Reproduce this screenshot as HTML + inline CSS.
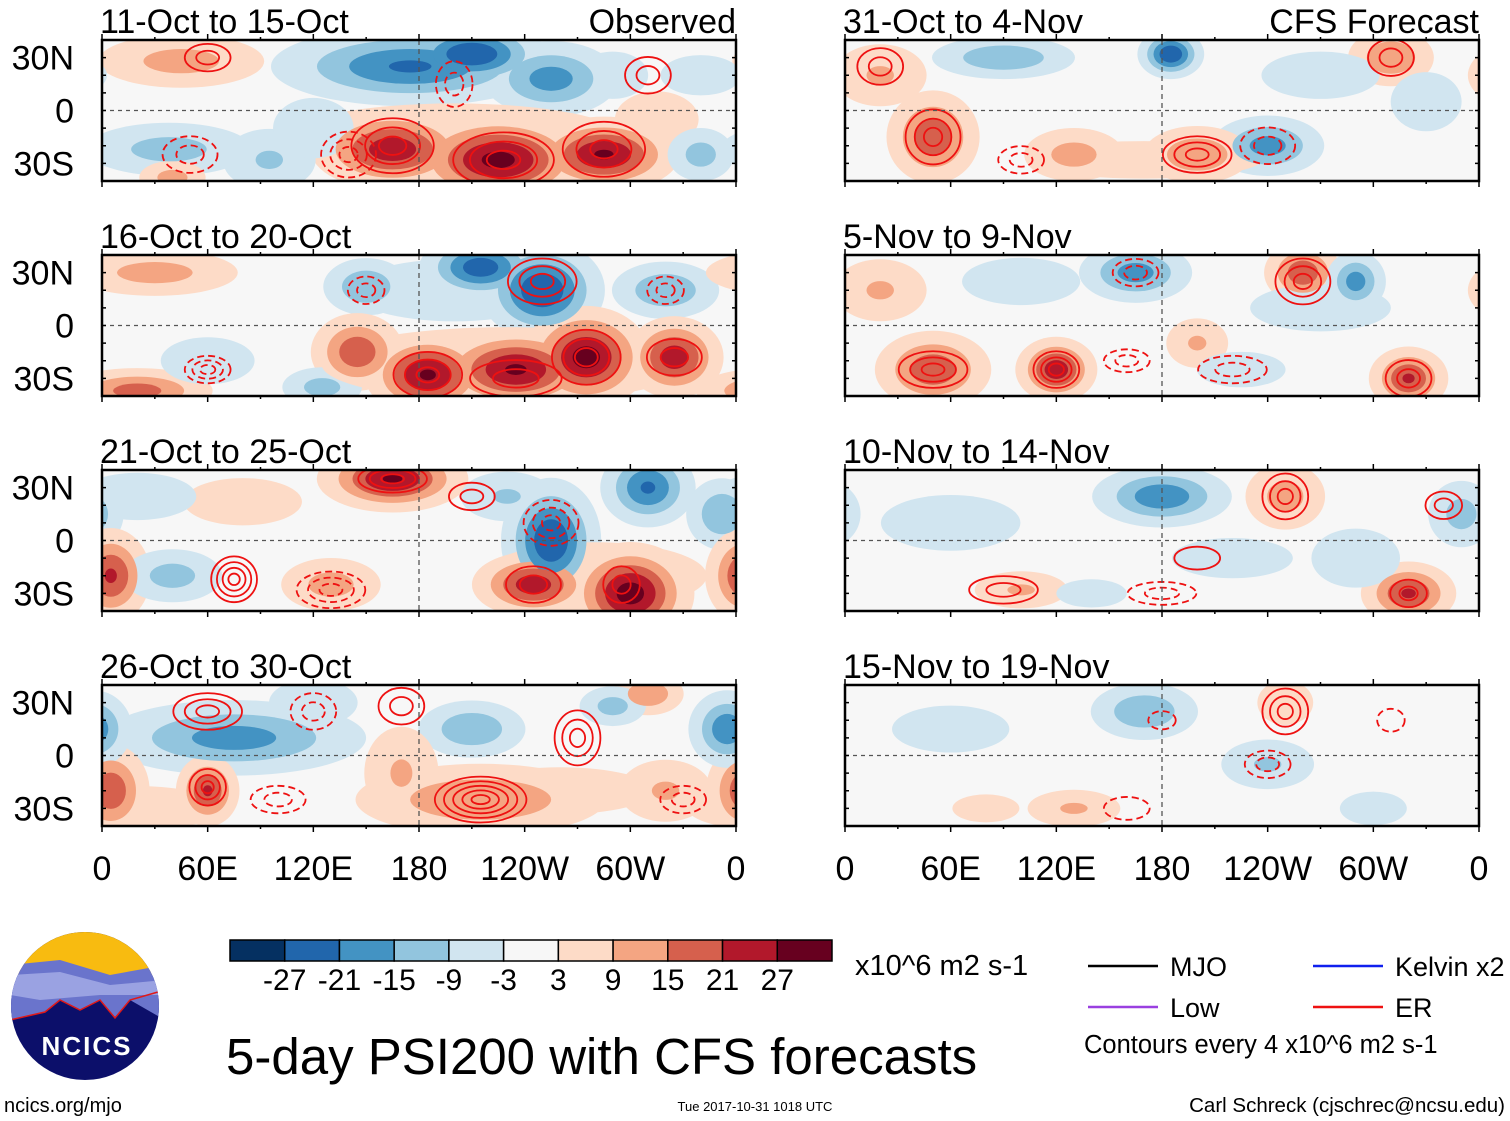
<!DOCTYPE html>
<html><head><meta charset="utf-8">
<style>
body{margin:0;background:#fff;width:1510px;height:1121px;overflow:hidden;font-family:"Liberation Sans",sans-serif;}
svg{position:absolute;left:0;top:0}
</style></head>
<body>
<svg id="fig" width="1510" height="1121" viewBox="0 0 1510 1121">
</svg>
<script>
// ---- data ----
const panelTitles = ["11-Oct to 15-Oct","16-Oct to 20-Oct","21-Oct to 25-Oct","26-Oct to 30-Oct","31-Oct to 4-Nov","5-Nov to 9-Nov","10-Nov to 14-Nov","15-Nov to 19-Nov"];
const colorLevels = [-27,-21,-15,-9,-3,3,9,15,21,27];
const colorFills = ["#053061","#2166ac","#4393c3","#92c5de","#d1e5f0","#f7f7f7","#fddbc7","#f4a582","#d6604d","#b2182b","#67001f"];
const lonTicks = ["0","60E","120E","180","120W","60W","0"];
const latTicks = ["30N","0","30S"];
// anomaly blobs per panel: [lon, lat, amplitude, radiusLonDeg, radiusLatDeg]
const blobs0 = [[175,25,-22,35,10],[210,32,-27,18,8],[255,18,-18,18,10],[290,20,-9,12,8],[165,-22,25,20,10],[225,-28,29,22,11],[285,-25,28,18,9],[45,28,12,25,8],[38,-22,-12,25,8],[95,-28,-10,15,10],[40,-38,12,10,5],[315,-5,8,15,10],[340,-25,-12,10,8],[200,-15,8,60,12],[120,-10,-5,20,15],[340,20,-5,20,10]];
const blobs1 = [[215,33,-25,15,8],[250,20,-27,15,12],[150,22,-15,12,8],[320,20,-15,15,8],[145,-15,20,12,10],[185,-28,28,15,10],[235,-25,28,20,10],[275,-18,30,15,12],[325,-18,25,12,10],[20,-37,18,20,6],[30,30,12,25,7],[125,-35,-12,12,6],[60,-20,-6,20,10],[230,-22,10,60,12],[200,20,-7,40,12]];
const blobs2 = [[165,35,28,18,8],[255,0,-27,12,15],[310,30,-22,12,10],[352,15,-15,10,10],[245,-25,25,15,8],[300,-30,30,15,12],[5,-20,22,10,12],[40,-20,-12,15,8],[80,22,9,20,8],[20,25,-9,20,8],[130,-25,12,15,8],[230,25,-10,15,8],[280,-20,8,40,12]];
const blobs3 = [[75,10,-18,35,10],[210,15,-15,15,8],[60,-20,22,8,9],[5,-20,20,10,12],[215,-25,15,35,10],[170,-10,10,12,15],[320,-20,10,15,10],[355,15,-20,10,10],[310,35,15,10,6],[120,30,-9,15,8],[290,28,-12,10,6],[20,-30,8,30,8],[260,-20,6,40,10]];
const blobs4 = [[185,32,-27,8,6],[90,30,-15,20,6],[240,-20,-18,15,8],[50,-15,20,12,12],[200,-25,15,15,8],[130,-25,12,15,8],[310,30,15,12,8],[20,20,10,15,10],[330,5,-9,12,10],[270,20,-9,20,8],[170,-28,6,50,8]];
const blobs5 = [[165,30,-18,15,8],[260,30,20,10,8],[290,25,-18,8,8],[120,-25,25,10,8],[50,-25,20,15,10],[320,-30,22,10,8],[200,-10,10,10,8],[225,-25,-9,15,6],[100,25,-9,20,8],[20,20,10,15,10],[270,10,-6,30,10]];
const blobs6 = [[180,25,-20,18,8],[350,15,-12,10,10],[320,-30,22,12,8],[250,25,12,12,10],[100,-28,10,15,6],[60,10,-8,25,10],[140,-30,-6,15,6],[290,-10,-9,15,10],[220,-10,-5,30,10]];
const blobs7 = [[170,25,-15,15,8],[240,-5,-10,15,8],[130,-30,10,15,6],[80,-30,8,12,5],[300,-30,-8,12,6],[250,30,8,10,8],[60,15,-6,25,10]];
const blobsByPanel = [blobs0,blobs1,blobs2,blobs3,blobs4,blobs5,blobs6,blobs7];
// red ER contours per panel: [lon, lat, rings, radiusLonDeg, radiusLatDeg, dashed]
const er0 = [[165,-20,3,18,12,0],[228,-28,3,22,12,0],[285,-22,3,18,12,0],[60,30,2,10,6,0],[310,20,2,10,8,0],[140,-25,3,12,10,1],[50,-25,2,12,8,1],[200,15,2,8,10,1]];
const er1 = [[250,25,3,15,10,0],[185,-28,3,15,10,0],[275,-18,3,15,12,0],[325,-18,2,12,8,0],[60,-25,3,10,6,1],[150,20,2,8,6,1],[320,20,2,8,6,1],[235,-30,2,20,8,0]];
const er2 = [[75,-22,4,10,10,0],[165,35,3,15,6,0],[245,-25,2,12,8,0],[255,10,3,12,10,1],[130,-28,3,15,8,1],[295,-25,2,8,8,0],[210,25,2,10,6,0]];
const er3 = [[215,-25,5,20,10,0],[60,-18,3,8,8,0],[60,25,3,15,8,0],[270,10,3,10,12,0],[120,25,2,10,8,1],[100,-25,2,12,6,1],[330,-25,2,10,6,1],[170,28,2,10,8,0]];
const er4 = [[50,-15,3,12,12,0],[200,-25,3,15,8,0],[310,30,2,10,8,0],[240,-20,2,12,8,1],[100,-28,2,10,6,1],[20,25,2,10,8,0]];
const er5 = [[120,-25,3,10,8,0],[50,-25,3,15,8,0],[260,25,3,12,10,0],[320,-30,2,10,8,0],[220,-25,2,15,6,1],[160,-20,2,10,5,1],[165,30,2,10,6,1]];
const er6 = [[250,25,3,10,10,0],[90,-28,2,15,6,0],[320,-30,2,8,6,0],[200,-10,1,10,5,0],[180,-30,2,15,5,1],[340,20,2,8,6,0]];
const er7 = [[250,25,3,10,10,0],[240,-5,2,10,6,1],[160,-30,1,10,5,1],[310,20,1,6,5,1],[180,20,1,6,4,1]];
const erByPanel = [er0,er1,er2,er3,er4,er5,er6,er7];

// ---- layout ----
const NS="http://www.w3.org/2000/svg";
const fig=document.getElementById('fig');
function mk(tag,attrs,parent){const e=document.createElementNS(NS,tag);for(const k in attrs)e.setAttribute(k,attrs[k]);(parent||fig).appendChild(e);return e;}
const colX=[102,845], rowY=[40,255,470,685], PW=634, PH=141;
function colorFor(v){let i=0;while(i<colorLevels.length&&v>colorLevels[i])i++;return colorFills[i];}

for(let p=0;p<8;p++){
  const x0=colX[Math.floor(p/4)], y0=rowY[p%4];
  const xS=lon=>x0+lon/360*PW;
  const yS=lat=>y0+PH/2-lat*PH/80;
  const g=mk('g',{});
  
  
  const cid='clip'+p;
  const cp=mk('clipPath',{id:cid},g);mk('rect',{x:x0,y:y0,width:PW,height:PH},cp);
  const inner=mk('g',{'clip-path':'url(#'+cid+')'},g);
  mk('rect',{x:x0,y:y0,width:PW,height:PH,fill:'#f7f7f7'},inner);
  const bl=blobsByPanel[p];
  const levs=[3,9,15,21,27];
  // draw level by level so stronger cores are never hidden by broad weak features
  levs.forEach(L=>{
    bl.forEach(b=>{
      const [lon,lat,amp,rx,ry]=b;
      const a=Math.abs(amp), s=Math.sign(amp);
      if(a<=L)return;
      const r=Math.sqrt(Math.log(a/L))*1.6;
      [-360,0,360].forEach(off=>{
        const e=mk('ellipse',{cx:xS(lon+off),cy:yS(lat),rx:rx*r*PW/360,ry:ry*r*PH/80,fill:colorFor(s*(L+1))},inner);
        
        
      });
    });
  });
  erByPanel[p].forEach(c=>{
    const [lon,lat,n,rx,ry,d]=c;
    for(let k=1;k<=n;k++){
      const f=k/n*1.3;
      const e=mk('ellipse',{cx:xS(lon),cy:yS(lat),rx:rx*f*PW/360,ry:ry*f*PH/80,fill:'none',stroke:'#ee1111','stroke-width':1.8,'stroke-dasharray':d?'7,4':'none'},inner);
      
      
    }
  });
  mk('line',{x1:x0,x2:x0+PW,y1:yS(0),y2:yS(0),stroke:'#555','stroke-width':1.3,'stroke-dasharray':'4,4'},inner);
  mk('line',{x1:xS(180),x2:xS(180),y1:y0,y2:y0+PH,stroke:'#555','stroke-width':1.3,'stroke-dasharray':'5,4'},inner);
  mk('rect',{x:x0,y:y0,width:PW,height:PH,fill:'none',stroke:'#000','stroke-width':2.5},g);
  for(let t=0;t<=12;t++){const xx=x0+t*PW/12, len=t%2==0?6:3;
    mk('line',{x1:xx,x2:xx,y1:y0,y2:y0-len,stroke:'#000','stroke-width':1.5},g);
    mk('line',{x1:xx,x2:xx,y1:y0+PH,y2:y0+PH+len,stroke:'#000','stroke-width':1.5},g);}
  for(let t=0;t<=8;t++){const yy=y0+t*PH/8;
    mk('line',{x1:x0,x2:x0+4,y1:yy,y2:yy,stroke:'#000','stroke-width':1.5},g);
    mk('line',{x1:x0+PW,x2:x0+PW-4,y1:yy,y2:yy,stroke:'#000','stroke-width':1.5},g);}
  const tt=mk('text',{x:x0-2,y:y0-7,'font-size':34,fill:'#000'},g);tt.textContent=panelTitles[p];
  
  if(p===0||p===4){const r=mk('text',{x:x0+PW,y:y0-7,'font-size':34,'text-anchor':'end'},g);r.textContent=p===0?'Observed':'CFS Forecast';
    }
  if(p<4){[30,0,-30].forEach((la,i)=>{const t=mk('text',{x:74,y:yS(la)+12,'font-size':34,'text-anchor':'end'},g);t.textContent=latTicks[i];
    });}
  if(p%4===3){lonTicks.forEach((l,i)=>{const t=mk('text',{x:x0+i*PW/6,y:880,'font-size':34,'text-anchor':'middle'},g);t.textContent=l;
    });}
}

const cb=mk('g',{});

const cbX=230,cbW=602,cbY=940,cbH=21,bw=cbW/colorFills.length;
colorFills.forEach((c,i)=>{mk('rect',{x:cbX+i*bw,y:cbY,width:bw,height:cbH,fill:c,stroke:'#000','stroke-width':1.5},cb);});
colorLevels.forEach((v,i)=>{const t=mk('text',{x:cbX+(i+1)*bw,y:990,'font-size':30,'text-anchor':'middle'},cb);t.textContent=v;
  });
let t=mk('text',{x:855,y:975,'font-size':29});t.textContent='x10^6 m2 s-1';


const lg=mk('g',{});

[[1088,966,'#000','MJO'],[1313,966,'#1020ee','Kelvin x2'],[1088,1007,'#9a40e0','Low'],[1313,1007,'#ee1111','ER']].forEach(e=>{
  mk('line',{x1:e[0],x2:e[0]+70,y1:e[1],y2:e[1],stroke:e[2],'stroke-width':2.5},lg);
  const tx=mk('text',{x:e[0]+82,y:e[1]+10,'font-size':27},lg);tx.textContent=e[3];
  });
t=mk('text',{x:1084,y:1053,'font-size':25.5});t.textContent='Contours every 4 x10^6 m2 s-1';


t=mk('text',{x:226,y:1074,'font-size':51});t.textContent='5-day PSI200 with CFS forecasts';

t=mk('text',{x:4,y:1112,'font-size':20});t.textContent='ncics.org/mjo';

t=mk('text',{x:755,y:1111,'font-size':13,'text-anchor':'middle'});t.textContent='Tue 2017-10-31 1018 UTC';

t=mk('text',{x:1505,y:1112,'font-size':20.5,'text-anchor':'end'});t.textContent='Carl Schreck (cjschrec@ncsu.edu)';


const lo=mk('g',{});

const lc=mk('clipPath',{id:'logoclip'},lo);mk('circle',{cx:85,cy:1006,r:74},lc);
const li=mk('g',{'clip-path':'url(#logoclip)'},lo);
mk('rect',{x:0,y:930,width:170,height:160,fill:'#0c0f6a'},li);
mk('rect',{x:0,y:930,width:170,height:45,fill:'#f8bb10'},li);
mk('path',{d:'M10 965 L60 960 L110 975 L165 965 L165 1020 L130 1000 L115 1018 L100 1000 L80 1010 L60 1000 L45 1012 L10 1020 Z',fill:'#6a74cc'},li);
mk('path',{d:'M10 975 L60 972 L110 985 L165 980 L165 995 L100 995 L40 1000 L10 995 Z',fill:'#9aa2e2'},li);
mk('path',{d:'M10 1020 L45 1012 L60 1000 L80 1010 L100 1000 L115 1018 L130 1000 L165 990',fill:'none',stroke:'#e01818','stroke-width':1.5},li);
t=mk('text',{x:87,y:1055,'font-size':26,'font-weight':'bold','text-anchor':'middle',fill:'#fff','letter-spacing':'2'},lo);t.textContent='NCICS';

</script>
</body></html>
